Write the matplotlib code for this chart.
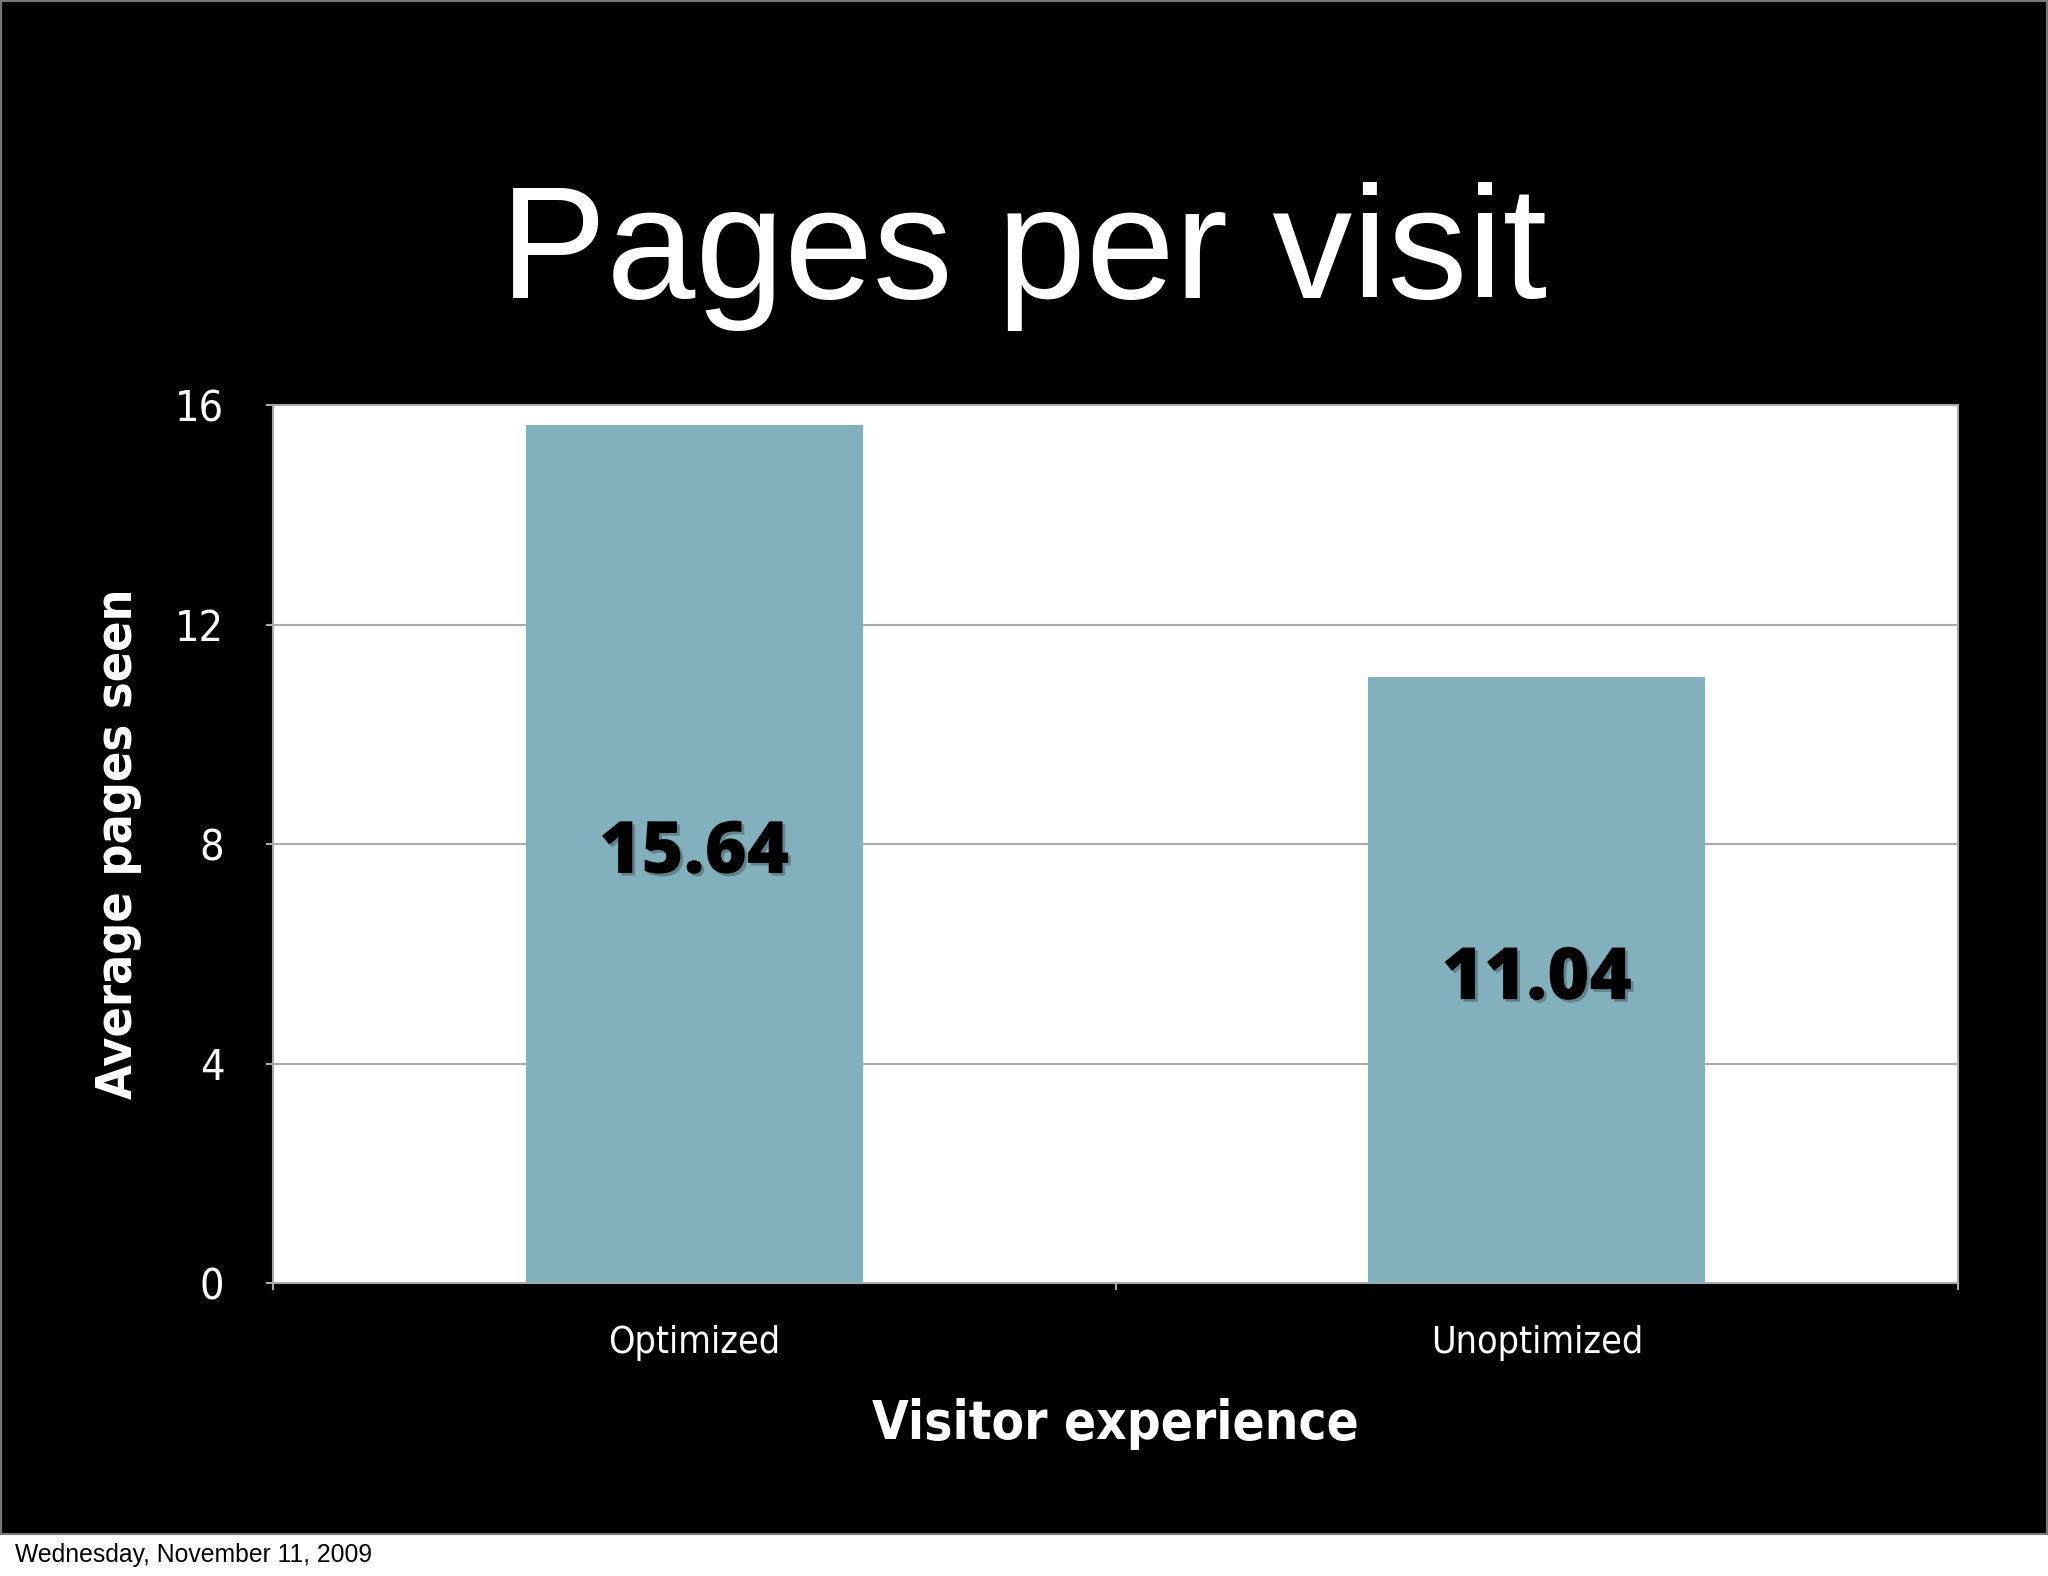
import matplotlib.pyplot as plt
import matplotlib.patheffects as pe
from matplotlib.patches import Rectangle

# data
categories = ["Optimized", "Unoptimized"]
pages = [15.64, 11.04]
yticks = [0, 4, 8, 12, 16]

narrow = ['DejaVu Sans']
helv = ['Liberation Sans', 'DejaVu Sans']

fig = plt.figure(figsize=(20.48, 15.76), dpi=100, facecolor='white')

# black slide background with a thin grey frame
fig.patches.append(Rectangle((0.0005, 0.0265), 0.999, 0.973, transform=fig.transFigure,
                             facecolor='black', edgecolor='#777777', linewidth=1.5, zorder=-10))

ax = fig.add_axes([0.1333, 0.1859, 0.8228, 0.5571])
ax.set_facecolor('white')

x = list(range(len(categories)))
bars = ax.bar(x, pages, width=0.4, color='#83b0bd', zorder=3)

ax.set_xlim(-0.5, 1.5)
ax.set_ylim(0, 16)
ax.set_yticks(yticks)
ax.set_yticklabels([str(t) for t in yticks], family=narrow, stretch='condensed',
                   fontsize=31, color='white')
ax.yaxis.grid(True, color='#aaaaaa', linewidth=1.5, zorder=1)
ax.tick_params(axis='y', length=5, width=1.5, color='#aaaaaa', pad=30)

ax.set_xticks(x)
ax.set_xticklabels(categories, family=narrow, stretch='condensed', fontsize=27, color='white')
ax.set_xticks([-0.5, 0.5, 1.5], minor=True)
ax.tick_params(axis='x', which='major', length=0, pad=30)
ax.tick_params(axis='x', which='minor', length=5, width=1.5, color='#aaaaaa')

for s in ax.spines.values():
    s.set_color('#aaaaaa')
    s.set_linewidth(1.5)

ax.set_ylabel("Average pages seen", family=narrow, stretch='condensed', fontsize=36,
              fontweight='bold', color='white', va='center')
ax.yaxis.set_label_coords(-0.092, 0.5)
ax.set_xlabel("Visitor experience", family=narrow, stretch='condensed', fontsize=38,
              fontweight='bold', color='white', va='center')
ax.xaxis.set_label_coords(0.5, -0.1606)

# value labels in the middle of each bar
for xi, v in zip(x, pages):
    ax.text(xi, v / 2, f"{v:.2f}", ha='center', va='center', fontsize=52,
            fontweight=800, family=['Open Sans', 'DejaVu Sans'], color='black', zorder=4,
            path_effects=[pe.withSimplePatchShadow(offset=(2, -2), shadow_rgbFace='black', alpha=0.25)])

# title
fig.text(0.5, 1 - 298 / 1576, "Pages per visit", ha='center', va='baseline',
         family=helv, fontsize=115, color='white')

# date footer
fig.text(15 / 2048, 14 / 1576, "Wednesday, November 11, 2009", ha='left', va='baseline',
         family=helv, fontsize=17.8, color='black')

plt.savefig("out.png", dpi=100, facecolor='white')
